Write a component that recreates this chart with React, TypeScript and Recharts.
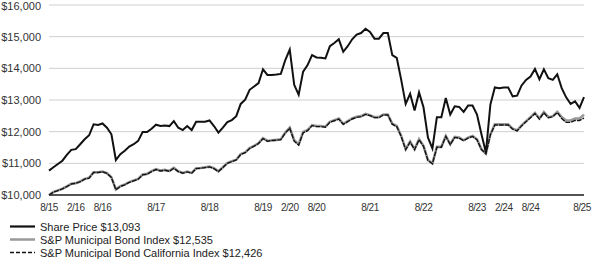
import { LineChart, Line, XAxis, YAxis, CartesianGrid, Legend } from "recharts";

// monthly values, 8/15 .. 8/25 (121 months)
const sharePrice = [
  10770, 10875, 10980, 11083, 11270, 11427, 11448, 11604, 11760, 11886, 12230, 12210, 12260,
  12125, 11917, 11104, 11290, 11396, 11531, 11604, 11708, 11990, 11990, 12094, 12219,
  12177, 12198, 12177, 12334, 12125, 12050, 12177, 12050, 12313, 12313, 12313, 12355,
  12177, 11969, 12125, 12302, 12365, 12490, 12876, 13011, 13323, 13428, 13532, 13969,
  13792, 13792, 13803, 13824, 14261, 14594, 13480, 13167, 13896, 14104, 14417, 14344,
  14333, 14313, 14698, 14802, 14917, 14521, 14698, 14917, 15063, 15115, 15250, 15146,
  14938, 14938, 15115, 15115, 14417, 14333, 13636, 12876, 13198, 12667, 13240, 12771,
  11813, 11469, 12459, 12459, 13063, 12542, 12802, 12781, 12625, 12823, 12823, 12542,
  11917, 11344, 12854, 13396, 13375, 13396, 13396, 13115, 13136, 13459, 13636, 13740,
  13979, 13657, 13969, 13688, 13636, 13813, 13375, 13083, 12875, 12958, 12750, 13093,
];

const muniIndex = [
  10000, 10094, 10146, 10198, 10271, 10354, 10375, 10427, 10510, 10542, 10719, 10719, 10740,
  10688, 10563, 10177, 10281, 10333, 10406, 10458, 10510, 10646, 10667, 10750, 10813,
  10771, 10792, 10760, 10854, 10750, 10698, 10740, 10698, 10844, 10854, 10875, 10896,
  10844, 10750, 10875, 11010, 11063, 11115, 11292, 11344, 11479, 11552, 11635, 11792,
  11708, 11729, 11740, 11760, 11969, 12125, 11729, 11604, 11990, 12052, 12208, 12177,
  12177, 12156, 12313, 12365, 12417, 12250, 12333, 12417, 12469, 12490, 12563, 12521,
  12458, 12458, 12542, 12542, 12250, 12177, 11865, 11448, 11688, 11448, 11760, 11552,
  11104, 11000, 11521, 11521, 11865, 11604, 11833, 11813, 11729, 11813, 11865, 11760,
  11448, 11313, 11917, 12229, 12229, 12229, 12229, 12094, 12042, 12198, 12333, 12458,
  12594, 12417, 12615, 12458, 12490, 12625, 12458, 12354, 12354, 12417, 12417, 12535,
];

const caIndex = [
  10000, 10090, 10140, 10192, 10265, 10346, 10368, 10420, 10502, 10535, 10710, 10712, 10732,
  10680, 10552, 10165, 10270, 10322, 10396, 10448, 10500, 10636, 10657, 10740, 10803,
  10760, 10782, 10750, 10845, 10740, 10688, 10730, 10688, 10834, 10845, 10866, 10887,
  10835, 10740, 10866, 11000, 11054, 11106, 11282, 11335, 11470, 11543, 11626, 11782,
  11698, 11719, 11730, 11750, 11958, 12112, 11700, 11575, 11965, 12030, 12190, 12160,
  12160, 12140, 12295, 12345, 12395, 12232, 12315, 12400, 12452, 12473, 12546, 12505,
  12442, 12442, 12526, 12526, 12235, 12160, 11850, 11432, 11672, 11432, 11745, 11537,
  11090, 10985, 11506, 11506, 11850, 11590, 11818, 11798, 11714, 11798, 11850, 11745,
  11433, 11298, 11900, 12212, 12212, 12212, 12212, 12078, 12026, 12182, 12316, 12440,
  12575, 12398, 12596, 12438, 12470, 12604, 12417, 12292, 12292, 12354, 12354, 12426,
];

const tickIdx = [0, 6, 12, 24, 36, 48, 54, 60, 72, 84, 96, 102, 108, 120];
const tickLabels = ["8/15", "2/16", "8/16", "8/17", "8/18", "8/19", "2/20", "8/20", "8/21", "8/22", "8/23", "2/24", "8/24", "8/25"];
const yTicks = [10000, 11000, 12000, 13000, 14000, 15000, 16000];

const legendItems = [
  { label: "Share Price $13,093", color: "#111", width: 2.2, dash: "" },
  { label: "S&P Municipal Bond Index $12,535", color: "#999", width: 2.5, dash: "" },
  { label: "S&P Municipal Bond California Index $12,426", color: "#111", width: 1.3, dash: "4 2" },
];

const data = sharePrice.map((v, i) => ({
  idx: i,
  share: v,
  muni: muniIndex[i],
  ca: caIndex[i],
}));

const font = "'Liberation Sans', Arial, sans-serif";

const DateTick = ({ x, y, payload }: any) => {
  const i = tickIdx.indexOf(payload.value);
  const last = i === tickIdx.length - 1;
  return (
    <text
      x={last ? x - 2 : x}
      y={y}
      dy={6}
      textAnchor="middle"
      fontSize={10}
      letterSpacing={-0.5}
      fill="#333"
      fontFamily={font}
    >
      {tickLabels[i]}
    </text>
  );
};

const ChartLegend = () => (
  <div style={{ height: 40, paddingTop: 3, fontFamily: font, fontSize: 11, color: "#222" }}>
    {legendItems.map((it) => (
      <div key={it.label} style={{ display: "flex", alignItems: "center", height: 13 }}>
        <svg width={40} height={13}>
          <line x1={10} x2={35} y1={6.5} y2={6.5} stroke={it.color} strokeWidth={it.width} strokeDasharray={it.dash} />
        </svg>
        <span>{it.label}</span>
      </div>
    ))}
  </div>
);

export default function App() {
  return (
    <div style={{ position: "absolute", left: 0, top: 0 }}>
      <LineChart width={592} height={262} data={data} margin={{ top: 5, right: 8, left: 0, bottom: 2 }}>
        <CartesianGrid vertical={false} stroke="#cfcfcf" />
        <XAxis
          dataKey="idx"
          type="number"
          domain={[0, 120]}
          ticks={tickIdx}
          tick={<DateTick />}
          tickLine={false}
          axisLine={{ stroke: "#222", strokeWidth: 1.5 }}
          tickMargin={4}
          height={22}
          interval={0}
        />
        <YAxis
          domain={[10000, 16000]}
          ticks={yTicks}
          tickFormatter={(v: number) => "$" + v.toLocaleString("en-US")}
          axisLine={false}
          tickLine={false}
          tick={{ fontSize: 11, fill: "#333", fontFamily: font }}
          width={49}
        />
        <Legend verticalAlign="bottom" align="left" content={<ChartLegend />} />
        <Line dataKey="muni" stroke="#999" strokeWidth={2.6} dot={false} isAnimationActive={false} />
        <Line dataKey="ca" stroke="#111" strokeWidth={1.4} strokeDasharray="5 1" dot={false} isAnimationActive={false} />
        <Line dataKey="share" stroke="#111" strokeWidth={2} dot={false} isAnimationActive={false} />
      </LineChart>
    </div>
  );
}
